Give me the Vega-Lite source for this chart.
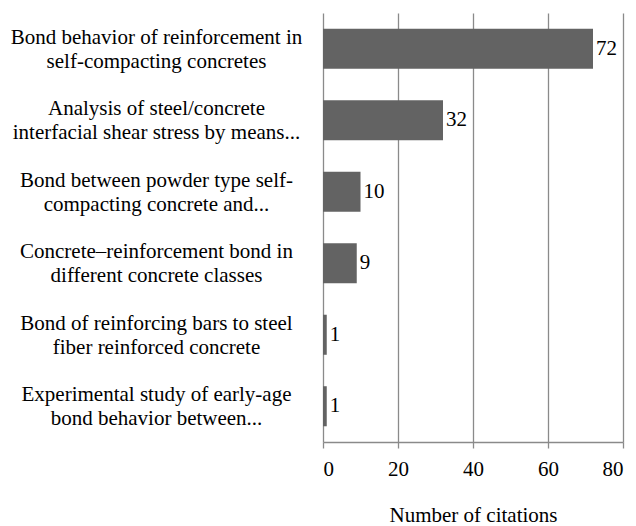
{
  "$schema": "https://vega.github.io/schema/vega-lite/v6.json",
  "autosize": "none",
  "width": 300,
  "height": 429,
  "padding": {"left": 323, "top": 13, "right": 13, "bottom": 84},
  "background": "white",
  "config": {
    "view": {"stroke": null},
    "font": "Liberation Serif",
    "axis": {"labelFont": "Liberation Serif", "titleFont": "Liberation Serif"}
  },
  "data": {
    "values": [
      {"title": "Bond behavior of reinforcement in|self-compacting concretes", "citations": 72},
      {"title": "Analysis of steel/concrete|interfacial shear stress by means...", "citations": 32},
      {"title": "Bond between powder type self-|compacting concrete and...", "citations": 10},
      {"title": "Concrete–reinforcement bond in|different concrete classes", "citations": 9},
      {"title": "Bond of reinforcing bars to steel|fiber reinforced concrete", "citations": 1},
      {"title": "Experimental study of early-age|bond behavior between...", "citations": 1}
    ]
  },
  "encoding": {
    "y": {
      "field": "title",
      "type": "nominal",
      "sort": null,
      "scale": {"paddingInner": 0.44, "paddingOuter": 0.22},
      "axis": {
        "title": null,
        "domain": false,
        "ticks": false,
        "labelExpr": "split(datum.label, '|')",
        "labelAlign": "center",
        "labelBaseline": "middle",
        "labelOffset": -11,
        "labelPadding": 167,
        "labelLimit": 400,
        "labelFontSize": 21,
        "labelColor": "#000000",
        "labelLineHeight": 24
      }
    },
    "x": {
      "field": "citations",
      "type": "quantitative",
      "scale": {"domain": [0, 80]},
      "axis": {
        "title": "Number of citations",
        "values": [0, 20, 40, 60, 80],
        "grid": true,
        "gridColor": "#8a8a8a",
        "gridWidth": 1.3,
        "domainColor": "#8a8a8a",
        "domainWidth": 1.3,
        "tickColor": "#8a8a8a",
        "tickWidth": 1.3,
        "tickSize": 6,
        "labelFontSize": 21,
        "labelColor": "#000000",
        "labelPadding": 10,
        "titleFontSize": 21,
        "titleFontWeight": "normal",
        "titleColor": "#000000",
        "titlePadding": 25
      }
    }
  },
  "layer": [
    {"mark": {"type": "bar", "color": "#636363"}},
    {
      "mark": {"type": "text", "align": "left", "baseline": "middle", "dx": 3, "fontSize": 21, "color": "#000000", "font": "Liberation Serif"},
      "encoding": {"text": {"field": "citations", "type": "quantitative"}}
    }
  ]
}
